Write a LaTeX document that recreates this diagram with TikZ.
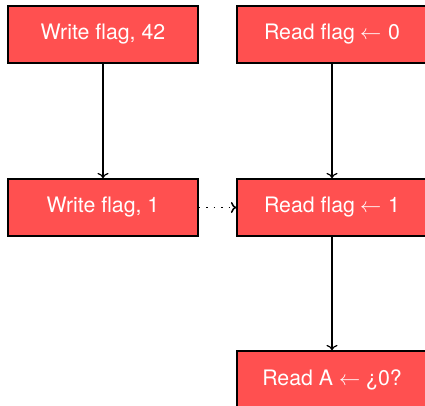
\documentclass[tikz,border=0pt]{standalone}
\usetikzlibrary{arrows.meta}
\usepackage{fontspec}
\setmainfont{TeX Gyre Heros}
\usepackage{unicode-math}
\setmathfont{Latin Modern Math}
\definecolor{boxred}{RGB}{255,80,80}
\begin{document}
\begin{tikzpicture}[x=1pt,y=-1pt,
  stepbox/.style={draw=black,line width=1.2pt,fill=boxred,text=white,
    minimum width=190pt,minimum height=57pt,inner sep=0pt,
    font=\fontsize{21.3}{25}\selectfont},
  conn/.style={line width=1.2pt,-{To[length=5.5pt,width=11pt]}},
  dotconn/.style={conn,line width=1.5pt,dash pattern=on 1.8pt off 5.7pt}]
\useasboundingbox (0,0) rectangle (425,406);
\node[stepbox] (w42) at (103,34.5) {Write flag, 42};
\node[stepbox] (r0) at (332,34.5) {Read flag $\leftarrow$ 0};
\node[stepbox] (w1) at (103,207.5) {Write flag, 1};
\node[stepbox] (r1) at (332,207.5) {Read flag $\leftarrow$ 1};
\node[stepbox] (ra) at (332,379.5) {Read A $\leftarrow$ ¿0?};
\draw[conn] (w42) -- (w1);
\draw[conn] (r0) -- (r1);
\draw[conn] (r1) -- (ra);
\draw[dotconn] (w1) -- (r1);
\end{tikzpicture}
\end{document}
